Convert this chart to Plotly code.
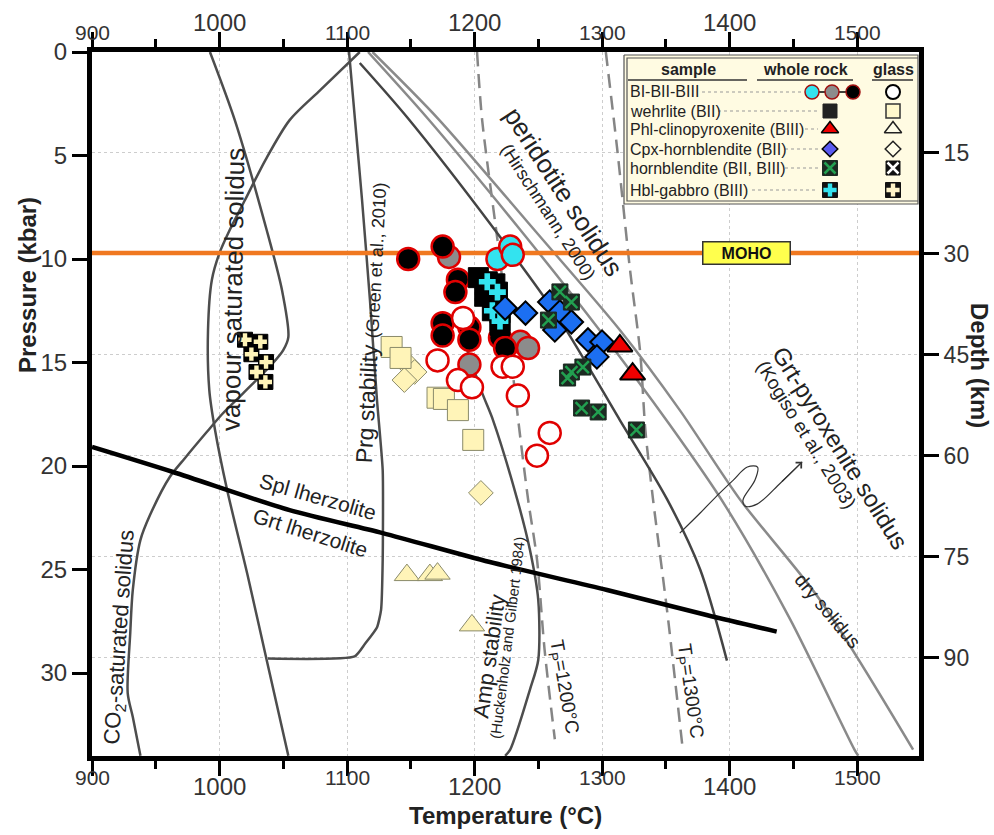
import plotly.graph_objects as go

FONT = "Liberation Sans, Arial, Helvetica, sans-serif"

# ---------------- axis ticks ----------------
temp_ticks = [900, 1000, 1100, 1200, 1300, 1400, 1500]
temp_minor = [950, 1050, 1150, 1250, 1350, 1450]
press_ticks = [0, 5, 10, 15, 20, 25, 30]
depth_ticks = [15, 30, 45, 60, 75, 90]

# ---------------- phase boundaries (T in degC, P in kbar) ----------------
solA_T = [992.5, 1012, 1037, 1049, 1054, 1050, 1042, 1020, 1002, 990, 973, 961, 945.5, 938, 932, 930, 928, 932, 938]
solA_P = [0, 3.29, 8.6, 11.5, 13.77, 14.4, 15.02, 16.4, 17.5, 18.36, 19.61, 20.53, 22.37, 23.57, 25.99, 28.07, 30.97, 32.13, 34.0]
vap_T = [1110, 1079, 1055, 1036, 1020, 1008, 1000, 994, 991, 992, 996.5, 1006, 1022, 1037, 1054]
vap_P = [0, 1.84, 3.29, 5.22, 7.15, 8.6, 9.71, 11.01, 13.43, 16.33, 18.26, 21.16, 25.27, 29.37, 34.0]
prg_T = [1101.6, 1106.3, 1111.8, 1118, 1123.5, 1128, 1128, 1126.7, 1123.5, 1114, 1106, 1038]
prg_P = [0, 3.29, 7.15, 11.98, 16.8, 20.2, 24.5, 26.96, 27.8, 28.6, 29.2, 29.3]
amp_T = [1189, 1206, 1214.5, 1233, 1243.5, 1250, 1250, 1243.5, 1228, 1224]
amp_P = [13.43, 16.47, 17.78, 21.5, 24.06, 26.47, 29.37, 30.8, 33.7, 34.0]
tp1200_T = [1202, 1206, 1220, 1234, 1242, 1249, 1255, 1263]
tp1200_P = [0, 3.29, 10.05, 17.63, 21.6, 24.5, 28.9, 33.2]
tp1300_T = [1303, 1312, 1322, 1330, 1334, 1340, 1351, 1363]
tp1300_P = [0, 4.73, 10.53, 14.54, 18.26, 21.6, 26.96, 33.5]
perid_T = [1110, 1147, 1216, 1267, 1314, 1351, 1377, 1398]
perid_P = [0.53, 3.14, 8.6, 12.95, 17.78, 21.6, 25.0, 29.4]
grtpx_T = [1116.5, 1163, 1236, 1298, 1353, 1396.5, 1447.5, 1498, 1501]
grtpx_P = [0, 3.19, 8.6, 13.43, 18.0, 21.9, 27.4, 33.7, 34.0]
dry_T = [1120, 1171, 1247, 1314, 1361, 1408, 1471, 1544]
dry_P = [0, 3.19, 8.6, 13.43, 17.3, 21.6, 26.47, 33.7]
splgrt_T = [900, 963.5, 1055, 1128, 1212, 1304, 1382, 1437]
splgrt_P = [19.08, 20.29, 22.13, 23.24, 24.64, 25.99, 27.2, 28.0]
moho_P = 9.71
arrow_T = [1361, 1377, 1392.5, 1403, 1414, 1422, 1420, 1410.6, 1412, 1421.6, 1440, 1457]
arrow_P = [23.24, 22.27, 21.3, 20.68, 20.05, 20.05, 20.68, 21.64, 21.93, 21.84, 20.82, 19.8]

# ---------------- samples: whole rock ----------------
bi_T = [1218, 1228, 1230]
bi_P = [10.0, 9.4, 9.8]
bii_T = [1180, 1196, 1236, 1242]
bii_P = [9.9, 15.1, 14.0, 14.3]
biii_T = [1148, 1175, 1187, 1185, 1175, 1175, 1196, 1196, 1220, 1224]
biii_P = [10.0, 9.4, 11.0, 11.6, 13.1, 13.7, 13.3, 13.9, 13.8, 14.3]
wehr_T = [1203, 1216, 1208, 1220, 1220]
wehr_P = [10.9, 11.2, 11.8, 12.6, 13.2]
hblg_T = [1210, 1218, 1214, 1220]
hblg_P = [11.1, 11.6, 12.5, 13.0]
cpxh_T = [1224, 1240, 1259, 1267, 1276, 1263, 1289, 1300, 1296]
cpxh_P = [12.37, 12.61, 12.08, 12.56, 13.04, 13.43, 13.91, 14.01, 14.73]
hbl_T = [1267, 1276, 1258, 1285, 1276, 1273, 1284, 1297, 1327]
hbl_P = [11.59, 12.08, 12.95, 15.22, 15.46, 15.75, 17.2, 17.39, 18.26]
phl_T = [1314, 1324]
phl_P = [14.2, 15.56]

# ---------------- samples: glass ----------------
bgl_T = [1171, 1187, 1198, 1222, 1230, 1234, 1259, 1249, 1191]
bgl_P = [14.9, 15.85, 16.2, 15.2, 15.2, 16.6, 18.4, 19.5, 12.85]
wehr_gl_T = [1135, 1142, 1171, 1176, 1187, 1199]
wehr_gl_P = [14.25, 14.78, 16.7, 16.76, 17.3, 18.74]
cpxh_gl_T = [1148, 1153, 1145, 1205]
cpxh_gl_P = [15.12, 15.46, 15.85, 21.3]
phl_gl_T = [1147, 1165, 1171, 1198]
phl_gl_P = [25.27, 25.27, 25.2, 27.7]
hblg_gl_T = [1020, 1032, 1025, 1036.5, 1029, 1036]
hblg_gl_P = [13.9, 14.0, 14.6, 14.98, 15.46, 15.94]

legend_rows = ["BI-BII-BIII", "wehrlite (BII)", "Phl-clinopyroxenite (BIII)",
               "Cpx-hornblendite (BII)", "hornblendite (BII, BIII)", "Hbl-gabbro (BIII)"]

# ---------------- layout geometry ----------------
W, H = 994, 835
ML, MT, PW, PH = 92, 52, 827, 704
T_RANGE = [900, 900 + PW / 1.275]
P_RANGE = [PH / 20.7, 0]
D_RANGE = [PH / 6.73, 0]


def px(x):
    return (x - ML) / PW


def py(y):
    return (MT + PH - y) / PH


RED = "#e00000"
CREAM = "#fff4b8"
fig = go.Figure()


def line(T, P, color, width, dash=None, smooth=0.8):
    fig.add_trace(go.Scatter(x=T, y=P, mode="lines", hoverinfo="skip", showlegend=False,
                             line=dict(color=color, width=width, dash=dash, shape="spline", smoothing=smooth)))


def pts(T, P, symbol, size, color, lcolor, lwidth, xa="x", ya="y"):
    fig.add_trace(go.Scatter(x=T, y=P, mode="markers", hoverinfo="skip", showlegend=False,
                             xaxis=xa, yaxis=ya,
                             marker=dict(symbol=symbol, size=size, color=color,
                                         line=dict(color=lcolor, width=lwidth))))


# curves
line(solA_T, solA_P, "#4d4d4d", 2.5)
line(vap_T, vap_P, "#4d4d4d", 2.5)
line(prg_T, prg_P, "#4d4d4d", 2.5, smooth=0.5)
line(amp_T, amp_P, "#4d4d4d", 2.5)
line(tp1200_T, tp1200_P, "#858585", 2.5, dash="14px,8px")
line(tp1300_T, tp1300_P, "#858585", 2.5, dash="14px,8px")
line(perid_T, perid_P, "#444444", 2.5)
line(grtpx_T, grtpx_P, "#8a8a8a", 2.5)
line(dry_T, dry_P, "#8a8a8a", 2.5)
line(splgrt_T, splgrt_P, "#000000", 4.5)
line(arrow_T, arrow_P, "#333333", 1.2, smooth=1.0)
fig.add_trace(go.Scatter(x=[T_RANGE[0], T_RANGE[1]], y=[moho_P, moho_P], mode="lines", hoverinfo="skip",
                         showlegend=False, line=dict(color="#f07820", width=4.5)))

# glass samples (pale)
pts(phl_gl_T, phl_gl_P, "triangle-up", 22, CREAM, "#8a8a6a", 1)
pts(cpxh_gl_T, cpxh_gl_P, "diamond", 19, CREAM, "#8a8a6a", 1)
pts(wehr_gl_T, wehr_gl_P, "square", 21, CREAM, "#8a8a6a", 1)
pts(hblg_gl_T, hblg_gl_P, "square", 15, "#000000", "#000000", 1)
pts(hblg_gl_T, hblg_gl_P, "cross", 11, CREAM, CREAM, 0)

# whole rock + BI-BIII glass circles
pts(bii_T, bii_P, "circle", 22, "#8c8c8c", RED, 2.5)
pts(biii_T, biii_P, "circle", 22, "#000000", RED, 2.5)
pts(bgl_T, bgl_P, "circle", 22, "#ffffff", RED, 2.5)
pts(bi_T, bi_P, "circle", 22, "#33e3ef", RED, 2.5)
pts(wehr_T, wehr_P, "square", 20, "#000000", "#000000", 1)
pts(hblg_T, hblg_P, "square", 20, "#000000", "#000000", 1)
pts(hblg_T, hblg_P, "cross", 14, "#33e3ef", "#33e3ef", 0)
pts(cpxh_T, cpxh_P, "diamond", 18, "#1c6ff2", "#000000", 2)
pts(hbl_T, hbl_P, "square", 16, "#1c2b22", "#1c2b22", 1)
pts(hbl_T, hbl_P, "x-thin", 12, "#22a050", "#22a050", 2.5)
pts(phl_T, phl_P, "triangle-up", 22, "#ee0000", "#000000", 2)

# dummy traces so the secondary axes are drawn
fig.add_trace(go.Scatter(x=[None], y=[None], xaxis="x2", yaxis="y", showlegend=False))
fig.add_trace(go.Scatter(x=[None], y=[None], xaxis="x", yaxis="y2", showlegend=False))

# ---------------- legend (drawn on an overlay axis in paper units) ----------------
def lg_line(xs, ys, color, width, dash=None, fill=None, fillcolor=None):
    fig.add_trace(go.Scatter(x=xs, y=ys, mode="lines", xaxis="x3", yaxis="y3", hoverinfo="skip",
                             showlegend=False, fill=fill, fillcolor=fillcolor,
                             line=dict(color=color, width=width, dash=dash)))


bx0, bx1, by0, by1 = px(624), px(918), py(55), py(204)
lg_line([bx0, bx1, bx1, bx0, bx0], [by0, by0, by1, by1, by0], "#555555", 1.2, fill="toself", fillcolor="#fffbe2")
ix0, iy0, iy1 = px(627), py(58), py(201)
lg_line([bx1, ix0, ix0, bx1], [iy0, iy0, iy1, iy1], "#555555", 1.2)
for a, b in [(628, 747), (757, 853), (872, 913)]:
    lg_line([px(a), px(b)], [py(80), py(80)], "#333333", 1.5)

row_y = [92, 111, 129, 149, 168, 190]
lead_start = [702, 718, 805, 785, 785, 752]
wx, gx = px(830), px(893)
for i, lab in enumerate(legend_rows):
    yy = py(row_y[i])
    lg_line([px(lead_start[i]), px(818 if i else 803)], [yy, yy], "#999999", 1, dash="dot")
    fig.add_annotation(x=px(628), y=yy, xref="paper", yref="paper", text=lab, showarrow=False,
                       xanchor="left", yanchor="middle", font=dict(family=FONT, size=16, color="#222"))

ry = [py(v) for v in row_y]
# row 1
lg_line([px(812), px(853)], [ry[0], ry[0]], "#000000", 1.5)
pts([px(812)], [ry[0]], "circle", 14, "#33e3ef", "#a01010", 1.5, "x3", "y3")
pts([px(832)], [ry[0]], "circle", 14, "#8c8c8c", "#a01010", 1.5, "x3", "y3")
pts([px(853)], [ry[0]], "circle", 14, "#000000", "#a01010", 1.5, "x3", "y3")
pts([gx], [ry[0]], "circle", 14, "#ffffff", "#000000", 2, "x3", "y3")
# row 2
pts([wx], [ry[1]], "square", 14, "#222222", "#222222", 1, "x3", "y3")
pts([gx], [ry[1]], "square", 14, "#fff8cc", "#333333", 1.5, "x3", "y3")
# row 3
pts([wx], [ry[2]], "triangle-up", 15, "#ee0000", "#000000", 1.5, "x3", "y3")
pts([gx], [ry[2]], "triangle-up", 15, "#fffde8", "#222222", 1.5, "x3", "y3")
# row 4
pts([wx], [ry[3]], "diamond", 12, "#5a5af0", "#000000", 1.5, "x3", "y3")
pts([gx], [ry[3]], "diamond", 12, "#fffde8", "#222222", 1.5, "x3", "y3")
# row 5
pts([wx], [ry[4]], "square", 15, "#1c2b22", "#1c2b22", 1, "x3", "y3")
pts([wx], [ry[4]], "x-thin", 11, "#22a050", "#22a050", 2.5, "x3", "y3")
pts([gx], [ry[4]], "square", 14, "#111111", "#111111", 1, "x3", "y3")
pts([gx], [ry[4]], "x-thin", 11, "#ffffff", "#ffffff", 2.5, "x3", "y3")
# row 6
pts([wx], [ry[5]], "square", 15, "#111111", "#111111", 1, "x3", "y3")
pts([wx], [ry[5]], "cross", 11, "#33e3ef", "#33e3ef", 0, "x3", "y3")
pts([gx], [ry[5]], "square", 15, "#111111", "#111111", 1, "x3", "y3")
pts([gx], [ry[5]], "cross", 11, "#fff4c8", "#fff4c8", 0, "x3", "y3")

for txt, xc in [("sample", 688), ("whole rock", 805), ("glass", 893)]:
    fig.add_annotation(x=px(xc), y=py(70), xref="paper", yref="paper", text="<b>%s</b>" % txt,
                       showarrow=False, xanchor="center", yanchor="middle",
                       font=dict(family=FONT, size=16, color="#222"))

# ---------------- text annotations ----------------
def label(T, P, text, size, angle, color="#222"):
    fig.add_annotation(x=T, y=P, xref="x", yref="y", text=text, showarrow=False, textangle=angle,
                       xanchor="center", yanchor="middle", font=dict(family=FONT, size=size, color=color))


label(1010.6, 11.5, "vapour saturated solidus", 26, -89)
label(922, 28.3, "CO<sub>2</sub>-saturated solidus", 22, -86)
label(1119, 13.1, "Prg stability <span style='font-size:18px'>(Green et al., 2010)</span>", 23, -87)
label(1211.5, 29.2, "Amp stability", 22, -82)
label(1226, 28.3, "(Huckenholz and Gilbert 1984)", 15, -83)
label(1269.4, 30.7, "T<sub>P</sub>=1200°C", 19, 80)
label(1369, 30.9, "T<sub>P</sub>=1300°C", 19, 82)
label(1270, 6.76, "peridotite solidus", 26, 57)
label(1257.6, 7.73, "(Hirschmann, 2000)", 18, 57)
label(1486.7, 19.1, "Grt-pyroxenite solidus", 24, 58)
label(1460, 18.5, "(Kogiso et al., 2003)", 19, 58)
label(1476.5, 27.0, "dry solidus", 19, 50)
label(1077, 21.45, "Spl lherzolite", 21, 16)
label(1071, 23.2, "Grt lherzolite", 21, 17.5)

fig.add_annotation(x=1413, y=moho_P, xref="x", yref="y", text="<b>MOHO</b>", showarrow=False,
                   bgcolor="#ffff4d", bordercolor="#333333", borderwidth=1.5, width=84, height=19,
                   xanchor="center", yanchor="middle", font=dict(family=FONT, size=16, color="#111"))

fig.add_annotation(x=arrow_T[-1], y=arrow_P[-1], ax=arrow_T[-2], ay=arrow_P[-2], xref="x", yref="y",
                   axref="x", ayref="y", text="", showarrow=True, arrowhead=4, arrowsize=1.3,
                   arrowwidth=1.2, arrowcolor="#333333")

# temperature tick labels (alternating sizes, as in the original)
for i, t in enumerate(temp_ticks):
    big = (i % 2 == 1)
    fs = 24 if big else 21
    fig.add_annotation(x=t, y=py(786 if big else 777), xref="x", yref="paper", text=str(t),
                       showarrow=False, xanchor="center", yanchor="middle",
                       font=dict(family=FONT, size=fs, color="#333"))
    fig.add_annotation(x=t, y=py(23 if big else 33), xref="x", yref="paper", text=str(t),
                       showarrow=False, xanchor="center", yanchor="middle",
                       font=dict(family=FONT, size=fs, color="#333"))

fig.add_annotation(x=px(27), y=py(285), xref="paper", yref="paper", text="<b>Pressure (kbar)</b>",
                   textangle=-90, showarrow=False, xanchor="center", yanchor="middle",
                   font=dict(family=FONT, size=24, color="#222"))
fig.add_annotation(x=px(980), y=py(365), xref="paper", yref="paper", text="<b>Depth (km)</b>",
                   textangle=90, showarrow=False, xanchor="center", yanchor="middle",
                   font=dict(family=FONT, size=24, color="#222"))
fig.add_annotation(x=px(505), y=py(815), xref="paper", yref="paper", text="<b>Temperature (°C)</b>",
                   showarrow=False, xanchor="center", yanchor="middle",
                   font=dict(family=FONT, size=24, color="#222"))

axis_common = dict(showline=True, linewidth=5, linecolor="#000", ticks="outside", ticklen=15,
                   tickwidth=3, tickcolor="#000", zeroline=False)

fig.update_layout(
    width=W, height=H, margin=dict(l=ML, r=W - ML - PW, t=MT, b=H - MT - PH),
    paper_bgcolor="#ffffff", plot_bgcolor="rgba(0,0,0,0)", showlegend=False,
    xaxis=dict(range=T_RANGE, tickvals=temp_ticks, showticklabels=False, showgrid=True,
               gridcolor="#cdcdcd", griddash="dot", gridwidth=1,
               minor=dict(tickvals=temp_minor, ticks="outside", ticklen=8, tickwidth=2.5,
                          tickcolor="#000", showgrid=False), **axis_common),
    xaxis2=dict(range=T_RANGE, overlaying="x", side="top", anchor="y", tickvals=temp_ticks,
                showticklabels=False, showgrid=False,
                minor=dict(tickvals=temp_minor, ticks="outside", ticklen=8, tickwidth=2.5,
                           tickcolor="#000", showgrid=False), **axis_common),
    yaxis=dict(range=P_RANGE, tickvals=press_ticks, showgrid=False,
               tickfont=dict(family=FONT, size=24, color="#333"), **axis_common),
    yaxis2=dict(range=D_RANGE, overlaying="y", side="right", anchor="x", tickvals=depth_ticks,
                showgrid=True, gridcolor="#cdcdcd", griddash="dot", gridwidth=1,
                tickfont=dict(family=FONT, size=23, color="#333"), **axis_common),
    xaxis3=dict(domain=[0, 1], range=[0, 1], visible=False, anchor="y3", fixedrange=True),
    yaxis3=dict(domain=[0, 1], range=[0, 1], visible=False, anchor="x3", fixedrange=True),
)

fig.write_html("out.html")
